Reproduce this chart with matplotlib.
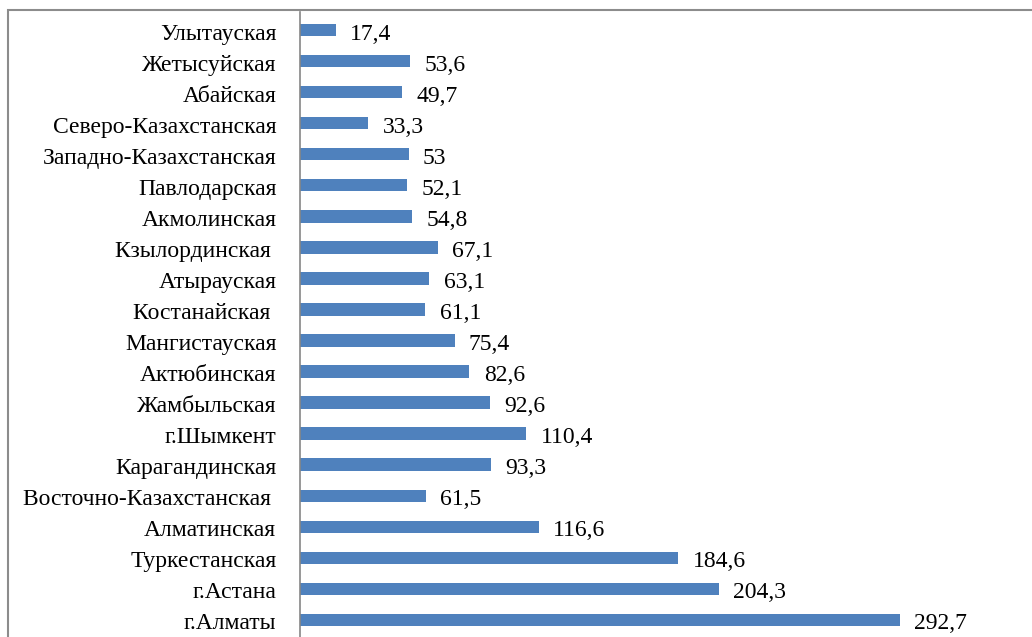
import matplotlib
matplotlib.use("Agg")
import matplotlib.pyplot as plt
from matplotlib.patches import Rectangle
import matplotlib.transforms as mtransforms

regions = ["Улытауская", "Жетысуйская", "Абайская", "Северо-Казахстанская",
           "Западно-Казахстанская", "Павлодарская", "Акмолинская", "Кзылординская ",
           "Атырауская", "Костанайская ", "Мангистауская", "Актюбинская",
           "Жамбыльская", "г.Шымкент", "Карагандинская", "Восточно-Казахстанская ",
           "Алматинская", "Туркестанская", "г.Астана", "г.Алматы"]
values = [17.4, 53.6, 49.7, 33.3, 53, 52.1, 54.8, 67.1, 63.1, 61.1, 75.4, 82.6,
          92.6, 110.4, 93.3, 61.5, 116.6, 184.6, 204.3, 292.7]
value_labels = ["17,4", "53,6", "49,7", "33,3", "53", "52,1", "54,8", "67,1", "63,1",
                "61,1", "75,4", "82,6", "92,6", "110,4", "93,3", "61,5", "116,6",
                "184,6", "204,3", "292,7"]

plt.rcParams['font.family'] = ['Liberation Serif', 'DejaVu Serif']

W, H = 1032, 637
fig = plt.figure(figsize=(W / 100, H / 100), dpi=100)
ax = fig.add_axes([300 / W, 0, (W - 300) / W, (H - 12) / H])

ypos = list(range(len(regions)))
ax.barh(ypos, values, height=0.4, color='#4F81BD')
ax.set_xlim(0, (W - 300) / 2.05)
ax.set_ylim(19.55, -0.58)
ax.set_yticks(ypos)
ax.set_yticklabels(regions, fontsize=17)
ax.tick_params(axis='y', length=0, pad=17)
down = mtransforms.ScaledTranslation(0, -1.5 / 100, fig.dpi_scale_trans)
for lbl in ax.get_yticklabels():
    lbl.set_transform(lbl.get_transform() + down)
ax.set_xticks([])
for s in ['top', 'right', 'bottom']:
    ax.spines[s].set_visible(False)
ax.spines['left'].set_color('#868686')
ax.spines['left'].set_linewidth(1.2)

for y, v, lab in zip(ypos, values, value_labels):
    ax.text(v + 7, y, lab, va='center_baseline', ha='left', fontsize=17,
            transform=ax.transData + down)

fig.patches.append(Rectangle((8 / W, -0.1), 1.2, (H - 10) / H + 0.1,
                             transform=fig.transFigure, fill=False,
                             edgecolor='#8c8c8c', linewidth=1.5))

fig.savefig("out.png", dpi=100)
